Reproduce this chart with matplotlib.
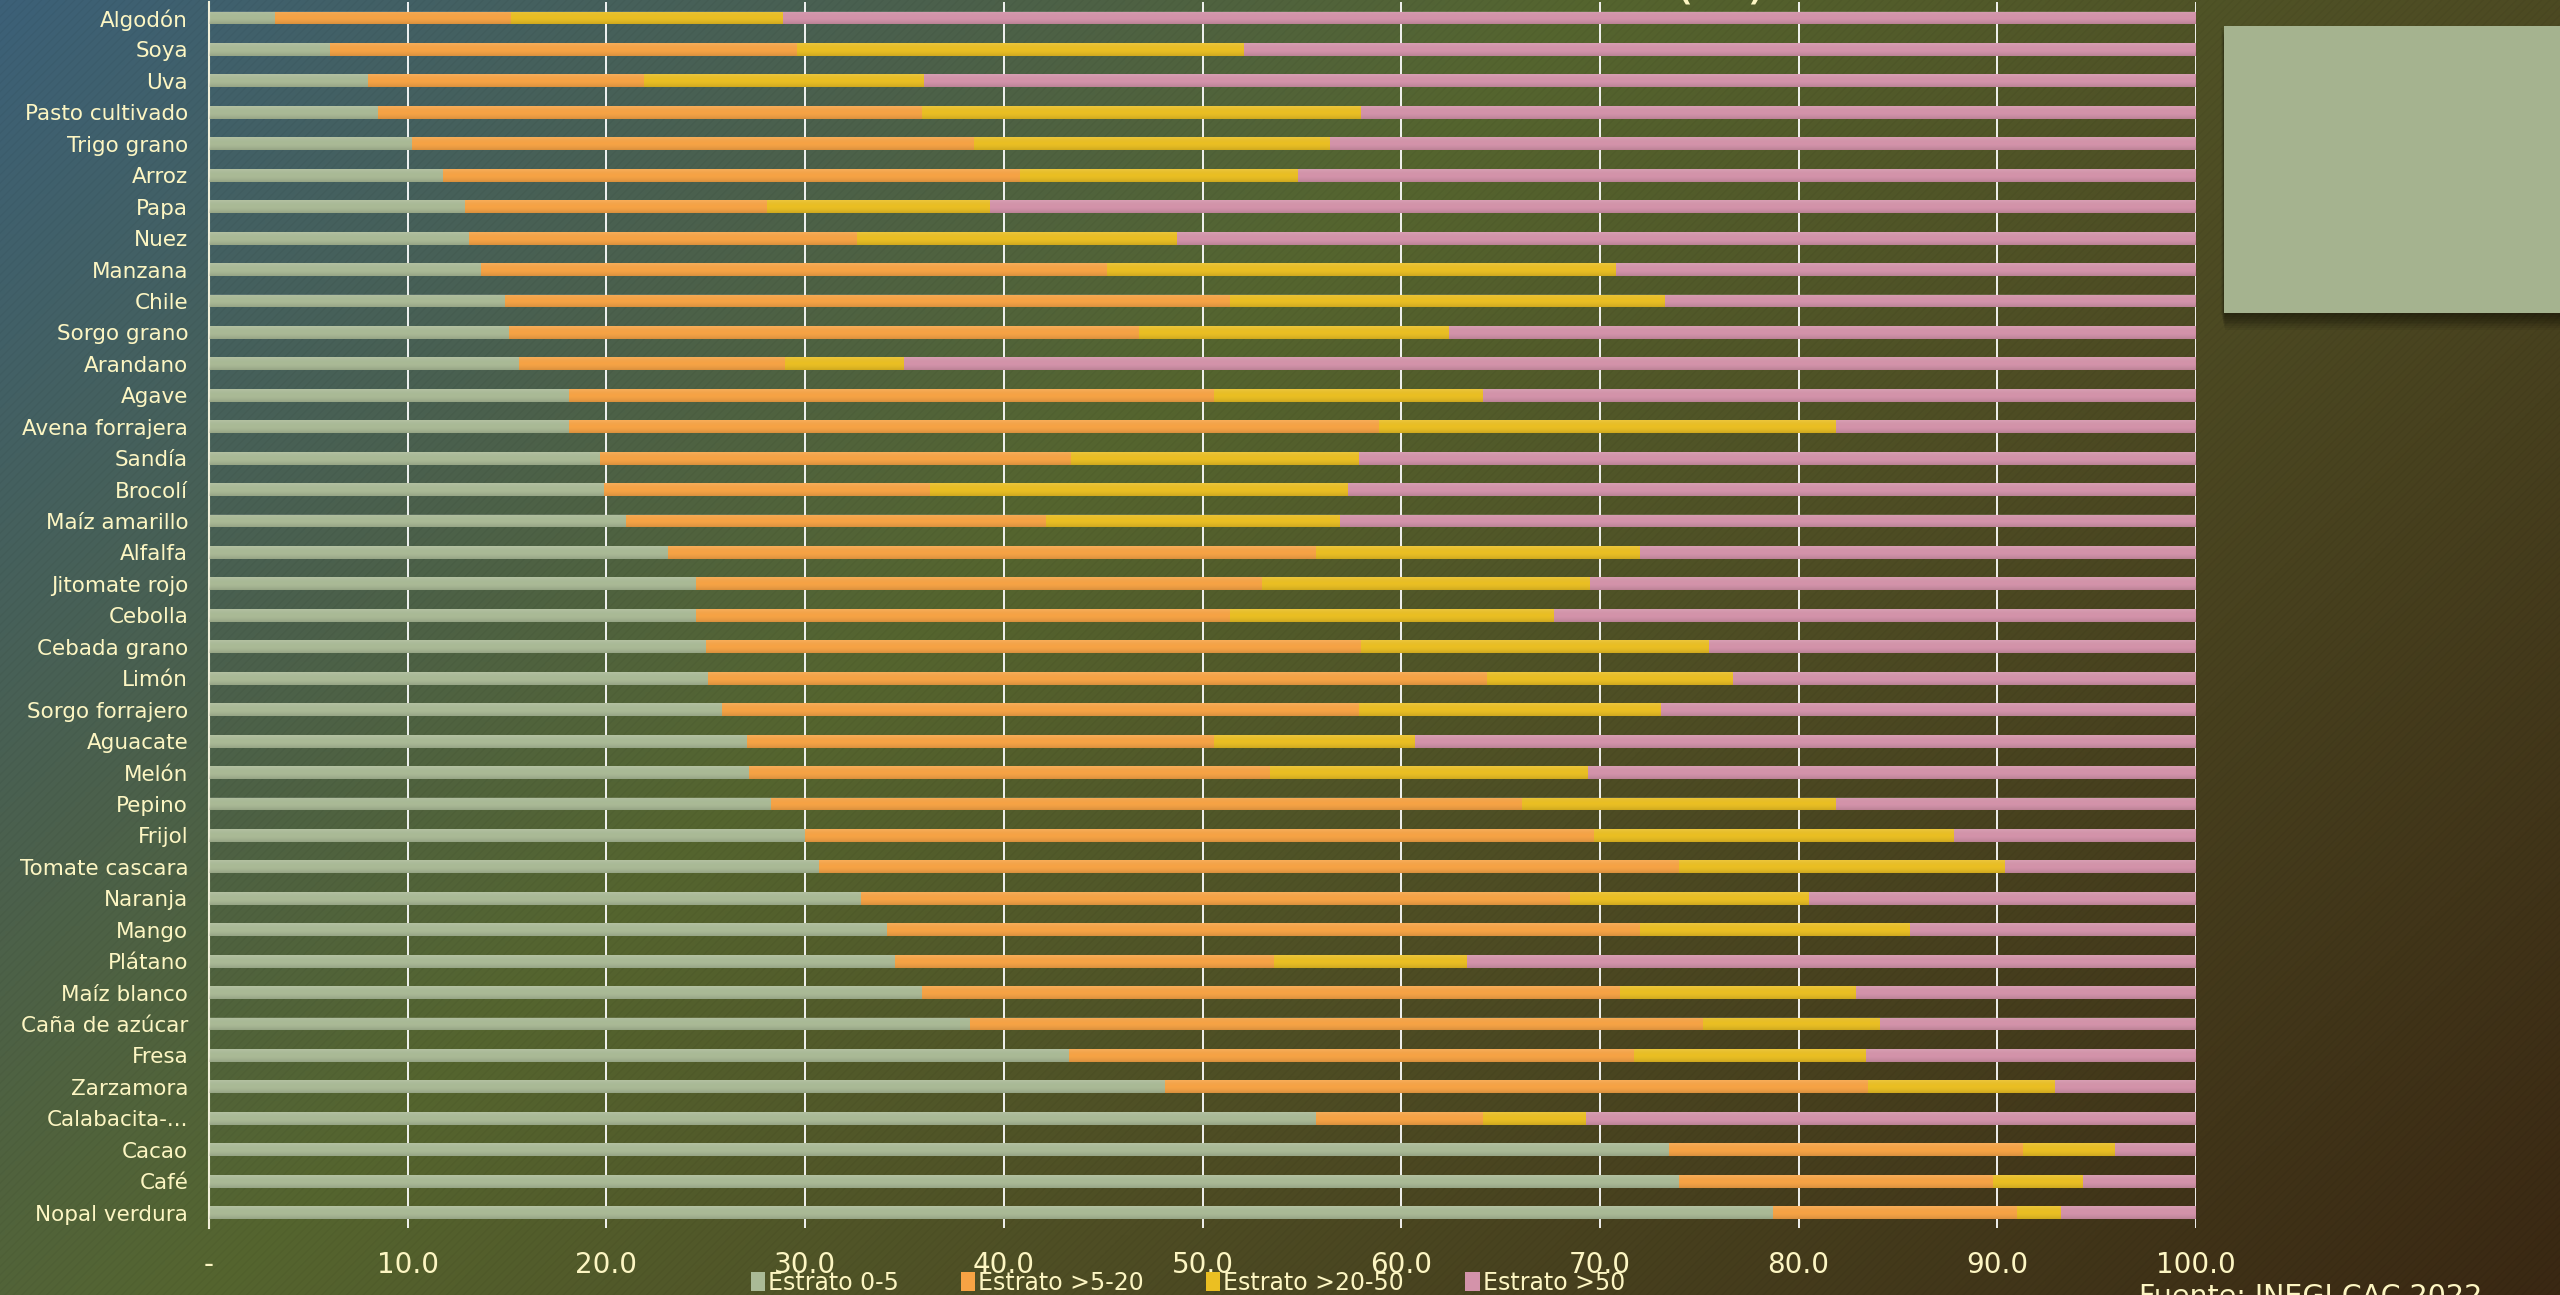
import matplotlib
matplotlib.use("Agg")
import matplotlib.pyplot as plt
import numpy as np
from matplotlib.colors import to_rgb
from matplotlib.patches import Rectangle

# --- data (percent of area by farm size stratum) ---
cultivos = ["Algodón", "Soya", "Uva", "Pasto cultivado", "Trigo grano", "Arroz", "Papa", "Nuez",
            "Manzana", "Chile", "Sorgo grano", "Arandano", "Agave", "Avena forrajera", "Sandía",
            "Brocolí", "Maíz amarillo", "Alfalfa", "Jitomate rojo", "Cebolla", "Cebada grano",
            "Limón", "Sorgo forrajero", "Aguacate", "Melón", "Pepino", "Frijol", "Tomate cascara",
            "Naranja", "Mango", "Plátano", "Maíz blanco", "Caña de azúcar", "Fresa", "Zarzamora",
            "Calabacita-...", "Cacao", "Café", "Nopal verdura"]

estrato_0_5 = [3.3, 6.1, 8.0, 8.5, 10.2, 11.8, 12.9, 13.1, 13.7, 14.9, 15.1, 15.6, 18.1, 18.1, 19.7,
               19.9, 21.0, 23.1, 24.5, 24.5, 25.0, 25.1, 25.8, 27.1, 27.2, 28.3, 30.0, 30.7,
               32.8, 34.1, 34.5, 35.9, 38.3, 43.3, 48.1, 55.7, 73.5, 74.0, 78.7]
estrato_5_20 = [11.9, 23.5, 13.9, 27.4, 28.3, 29.0, 15.2, 19.5, 31.5, 36.5, 31.7, 13.4, 32.5, 40.8, 23.7,
                16.4, 21.1, 32.6, 28.5, 26.9, 33.0, 39.2, 32.1, 23.5, 26.2, 37.8, 39.7, 43.3,
                35.7, 37.9, 19.1, 35.1, 36.9, 28.4, 35.4, 8.4, 17.8, 15.8, 12.3]
estrato_20_50 = [13.7, 22.5, 14.1, 22.1, 17.9, 14.0, 11.2, 16.1, 25.6, 21.9, 15.6, 6.0, 13.5, 23.0, 14.5,
                 21.0, 14.8, 16.3, 16.5, 16.3, 17.5, 12.4, 15.2, 10.1, 16.0, 15.8, 18.1, 16.4,
                 12.0, 13.6, 9.7, 11.9, 8.9, 11.7, 9.4, 5.2, 4.6, 4.5, 2.2]
estrato_50 = [71.1, 47.9, 64.0, 42.0, 43.6, 45.2, 60.7, 51.3, 29.2, 26.7, 37.6, 65.0, 35.9, 18.1, 42.1,
              42.7, 43.1, 28.0, 30.5, 32.3, 24.5, 23.3, 26.9, 39.3, 30.6, 18.1, 12.2, 9.6,
              19.5, 14.4, 36.7, 17.1, 15.9, 16.6, 7.1, 30.7, 4.1, 5.7, 6.8]

series_names = ["Estrato 0-5", "Estrato >5-20", "Estrato >20-50", "Estrato >50"]
series_colors = ["#AABA96", "#F7A344", "#EBBF22", "#D493AA"]
xticks = list(range(0, 101, 10))
xtick_labels = ["-" if v == 0 else f"{v:.1f}" for v in xticks]
fuente = "Fuente: INEGI CAC 2022"

TXT = "#FDF6C3"
FONT = "DejaVu Sans"
W, H = 2560, 1295

fig = plt.figure(figsize=(W / 100, H / 100), dpi=100)

# background: diagonal gradient teal -> olive -> brown, with faint hatching
bg = fig.add_axes([0, 0, 1, 1], zorder=-10)
bg.axis("off")
gx, gy = np.meshgrid(np.linspace(0, 1, 512), np.linspace(0, 1, 260))
t = 0.65 * gx + 0.35 * gy
stops = [0.0, 0.22, 0.40, 0.62, 1.0]
stop_cols = np.array([to_rgb(c) for c in ["#3C6078", "#4A6050", "#55652F", "#4E4D24", "#3A2813"]])
img = np.dstack([np.interp(t, stops, stop_cols[:, k]) for k in range(3)])
bg.imshow(img, extent=(0, 1, 0, 1), aspect="auto", origin="upper")
bg.add_patch(Rectangle((0, 0), 1, 1, transform=bg.transAxes, fill=False, hatch="////",
                       edgecolor=(0, 0, 0, 0.035), lw=0))
bg.set_xlim(0, 1)
bg.set_ylim(0, 1)

# grey-green box top right with soft shadow
bx0, by0, bx1, by1 = 2224 / W, 1 - 313 / H, 1.01, 1 - 26 / H
for k in range(1, 10):
    fig.patches.append(Rectangle((bx0 - 3 / W + k * 0.4 / W, by0 - k * 1.9 / H), bx1 - bx0, by1 - by0,
                                 transform=fig.transFigure, facecolor=(0, 0, 0, 0.055), lw=0, zorder=1))
fig.patches.append(Rectangle((bx0, by0), bx1 - bx0, by1 - by0, transform=fig.transFigure,
                             facecolor="#A5B38F", lw=0, zorder=2))

# main chart
ax = fig.add_axes([209 / W, 1 - 1228.4 / H, (2196 - 209) / W, (1228.4 - 2.3) / H])
ax.patch.set_alpha(0)
y = np.arange(len(cultivos))
series = [estrato_0_5, estrato_5_20, estrato_20_50, estrato_50]
left = np.zeros(len(cultivos))
bar_h = 0.41
handles = []
for vals, name, col in zip(series, series_names, series_colors):
    bc = ax.barh(y, vals, left=left, height=bar_h, color=col, label=name, zorder=2)
    handles.append(bc)
    left = left + np.array(vals)

# subtle vertical shading on every bar row
shade = np.zeros((32, 2, 4))
shade[:, :, :3] = np.linspace(1, 0, 32)[:, None, None]
shade[:, :, 3] = np.abs(np.linspace(0.12, -0.12, 32))[:, None]
for rect in handles[0].patches:
    yc = rect.get_y() + rect.get_height() / 2
    ax.imshow(shade, extent=(0, left.max(), yc + bar_h / 2, yc - bar_h / 2),
              aspect="auto", origin="upper", zorder=3, interpolation="bilinear")

ax.set_xlim(0, 100)
ax.set_ylim(len(cultivos) - 0.5, -0.5)
ax.set_yticks(y)
ax.set_yticklabels(cultivos, color=TXT, fontsize=15.5, family=FONT)
ax.set_xticks(xticks)
ax.set_xticklabels(xtick_labels, color=TXT, fontsize=20, family=FONT)
ax.tick_params(axis="y", length=0, pad=15)
ax.tick_params(axis="x", length=0, pad=16)
ax.grid(axis="x", color="white", lw=1.3, zorder=1)
ax.set_axisbelow(True)
for s in ["top", "right", "bottom"]:
    ax.spines[s].set_visible(False)
ax.spines["left"].set_color("#F2F0DA")
ax.spines["left"].set_linewidth(1.5)

# legend at bottom
leg = fig.legend(handles=handles, labels=series_names, loc="center", ncol=4,
                 bbox_to_anchor=(1188 / W, 1 - 1283 / H), frameon=False,
                 prop={"family": FONT, "size": 17}, labelcolor=TXT,
                 handlelength=0.6, handleheight=0.85, handletextpad=0.15, columnspacing=2.6)

# title fragment cut by the top edge, and source note cut by the bottom
fig.text(1720 / W, 1 + 3 / H, "(%)", color=TXT, fontsize=40, family=FONT, ha="center", va="baseline")
fig.text(2139 / W, 1 - 1283 / H, fuente, color=TXT, fontsize=20.5, family=FONT, ha="left", va="top")

fig.savefig("out.png", dpi=100)
